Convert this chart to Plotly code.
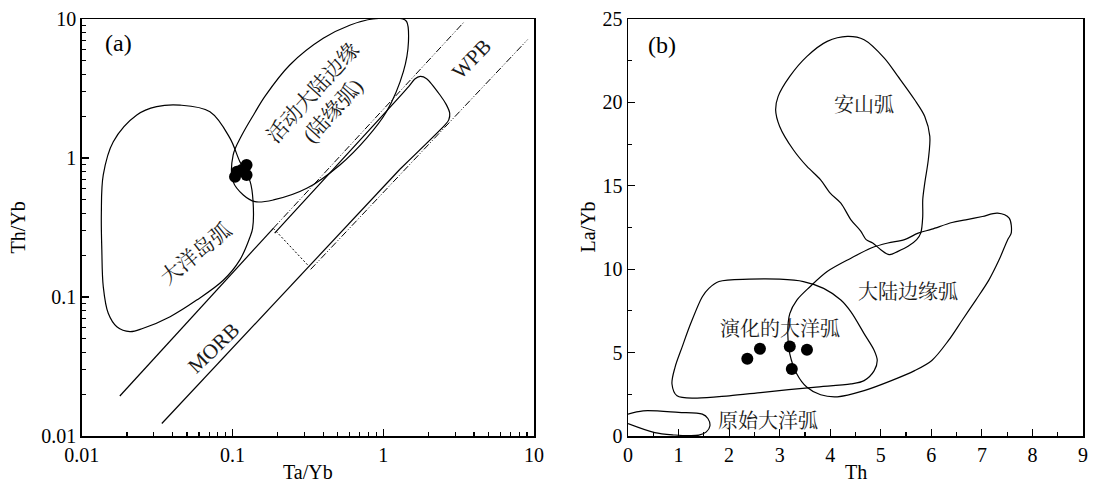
import numpy as np
import plotly.graph_objects as go

# ---------------- Panel (a): Th/Yb vs Ta/Yb (log-log) ----------------
island_arc_x = [0.0449, 0.0709, 0.0962, 0.112, 0.131, 0.137, 0.136, 0.131, 0.112, 0.0869, 0.0579, 0.0386,
                0.0256, 0.0209, 0.0171, 0.0150, 0.0139, 0.0136, 0.0135, 0.0139, 0.0162, 0.0232, 0.0314, 0.0449]
island_arc_y = [2.40, 2.15, 1.39, 0.94, 0.676, 0.485, 0.312, 0.272, 0.185, 0.132, 0.095, 0.0722,
                0.0596, 0.0563, 0.0611, 0.0763, 0.119, 0.218, 0.40, 0.755, 1.31, 2.04, 2.34, 2.40]

margin_x = [0.855, 1.35, 1.43, 1.47, 1.36, 1.05, 0.776, 0.516, 0.311, 0.187, 0.141, 0.118, 0.101,
            0.101, 0.115, 0.140, 0.165, 0.240, 0.40, 0.605, 0.855]
margin_y = [10, 10, 9.57, 6.87, 4.18, 2.15, 1.39, 0.891, 0.605, 0.499, 0.485, 0.542, 0.676,
            1.05, 1.45, 2.1, 2.8, 4.67, 7.26, 9.06, 10]

upper_line_x = [0.0179, 0.1866]
upper_line_y = [0.0194, 0.312]
lower_line_x = [0.034, 0.322, 1.29]
lower_line_y = [0.0123, 0.166, 0.83]
dashA_x = [0.1866, 3.40]
dashA_y = [0.312, 9.40]
dashD_x = [0.33, 9.06]
dashD_y = [0.158, 7.10]
connector_x = [0.1866, 0.322]
connector_y = [0.312, 0.166]
wpb_field_x = [0.1905, 1.479, 1.62, 1.76, 1.94, 2.38, 2.62, 2.76, 2.72, 2.57, 1.29]
wpb_field_y = [0.288, 3.27, 3.70, 3.86, 3.72, 2.84, 2.42, 2.10, 1.88, 1.73, 0.83]

samples_a_x = [0.104, 0.107, 0.115, 0.124, 0.124]
samples_a_y = [0.734, 0.796, 0.82, 0.891, 0.755]

# ---------------- Panel (b): La/Yb vs Th ----------------
andesite_x = [4.34, 4.67, 5.07, 5.34, 5.67, 5.87, 5.97, 5.94, 5.87, 5.83, 5.83, 5.79, 5.71, 5.54, 5.34,
              5.17, 5.0, 4.84, 4.71, 4.6, 4.41, 4.21, 4.0, 3.81, 3.54, 3.27, 3.0, 2.92, 2.97, 3.20,
              3.54, 3.94, 4.34]
andesite_y = [23.96, 23.76, 22.66, 21.56, 20.16, 19.16, 17.96, 16.56, 15.16, 14.16, 13.16, 12.16, 11.77,
              11.37, 11.07, 10.87, 11.17, 11.57, 11.77, 12.3, 12.96, 13.96, 14.56, 15.36, 16.16, 17.16,
              18.56, 19.56, 20.36, 21.56, 22.76, 23.66, 23.96]

cont_arc_x = [7.31, 7.54, 7.58, 7.51, 7.34, 7.14, 6.88, 6.61, 6.34, 6.01, 5.67, 5.21, 4.67, 4.14, 3.81,
              3.54, 3.34, 3.20, 3.16, 3.20, 3.34, 3.60, 3.94, 4.41, 4.81, 5.14, 5.47, 5.74, 6.01, 6.41,
              6.68, 7.01, 7.31]
cont_arc_y = [13.36, 13.06, 12.16, 11.77, 10.56, 9.36, 8.15, 6.94, 5.73, 4.53, 3.92, 3.32, 2.72, 2.35,
              2.47, 2.92, 3.72, 4.93, 6.14, 7.34, 8.15, 8.95, 9.86, 10.66, 11.27, 11.57, 11.77, 12.16,
              12.4, 12.8, 12.96, 13.16, 13.36]

evolved_x = [1.80, 2.40, 3.00, 3.47, 3.87, 4.21, 4.41, 4.67, 4.87, 4.93, 4.87, 4.67, 4.41, 3.67, 2.67,
             2.0, 1.34, 0.97, 0.87, 0.93, 1.07, 1.24, 1.47, 1.60, 1.80]
evolved_y = [9.26, 9.40, 9.40, 9.26, 8.85, 8.15, 7.44, 6.14, 5.13, 4.53, 3.92, 3.32, 3.12, 2.92, 2.62,
             2.41, 2.27, 2.41, 3.12, 4.12, 5.33, 6.74, 8.35, 8.85, 9.26]

primitive_x = [0, 0.30, 1.0, 1.47, 1.58, 1.62, 1.55, 1.40, 1.2, 0.93, 0.53, 0]
primitive_y = [1.31, 1.51, 1.42, 1.31, 1.05, 0.6, 0.25, 0.05, 0.02, 0.06, 0.20, 0.74]

samples_b_x = [2.36, 2.61, 3.20, 3.54, 3.24]
samples_b_y = [4.63, 5.23, 5.37, 5.17, 4.02]

# labels: (text, x, y, angle)
labels_a = [("活动大陆边缘<br>(陆缘弧)", 0.40, 2.54, -48),
            ("大洋岛弧", 0.057, 0.204, -39),
            ("MORB", 0.0753, 0.0427, -44),
            ("WPB", 3.86, 5.13, -46)]
labels_b = [("安山弧", 4.67, 19.86),
            ("大陆边缘弧", 5.54, 8.65),
            ("演化的大洋弧", 3.00, 6.44),
            ("原始大洋弧", 2.77, 0.91)]

FONT = "Liberation Serif, Times New Roman, Noto Serif CJK SC, Noto Sans CJK SC, serif"
BLACK = "black"
W, H = 1097, 487

fig = go.Figure()

def add_line(x, y, xa, ya, dash="solid", shape="linear", width=1.2, smoothing=1.0):
    line = dict(color=BLACK, width=width, dash=dash, shape=shape)
    if shape == "spline":
        line["smoothing"] = smoothing
    fig.add_trace(go.Scatter(x=x, y=y, mode="lines", line=line, xaxis=xa, yaxis=ya,
                             hoverinfo="skip", showlegend=False))

# panel a
add_line(island_arc_x, island_arc_y, "x", "y", shape="spline", smoothing=1.0)
add_line(margin_x, margin_y, "x", "y", shape="spline", smoothing=1.0)
add_line(upper_line_x, upper_line_y, "x", "y")
add_line(lower_line_x, lower_line_y, "x", "y")
add_line(wpb_field_x, wpb_field_y, "x", "y", shape="spline", smoothing=0.6)
add_line(dashA_x, dashA_y, "x", "y", dash="7px,2px,1px,2px,1px,2px", width=1)
add_line(dashD_x, dashD_y, "x", "y", dash="7px,2px,1px,2px,1px,2px", width=1)
add_line(connector_x, connector_y, "x", "y", dash="2px,2px", width=1)
fig.add_trace(go.Scatter(x=samples_a_x, y=samples_a_y, mode="markers", xaxis="x", yaxis="y",
                         marker=dict(color=BLACK, size=12), hoverinfo="skip", showlegend=False))

# panel b
for xs, ys in [(andesite_x, andesite_y), (cont_arc_x, cont_arc_y), (evolved_x, evolved_y),
               (primitive_x, primitive_y)]:
    add_line(xs, ys, "x2", "y2", shape="spline", smoothing=0.9)
fig.add_trace(go.Scatter(x=samples_b_x, y=samples_b_y, mode="markers", xaxis="x2", yaxis="y2",
                         marker=dict(color=BLACK, size=12), hoverinfo="skip", showlegend=False))

annotations = []
for text, x, y, ang in labels_a:
    annotations.append(dict(text=text, x=np.log10(x), y=np.log10(y), xref="x", yref="y",
                            xanchor="center", yanchor="middle",
                            textangle=ang, showarrow=False, font=dict(family=FONT, size=21, color="#1a1a1a")))
for text, x, y in labels_b:
    annotations.append(dict(text=text, x=x, y=y, xref="x2", yref="y2", showarrow=False,
                            xanchor="center", yanchor="middle",
                            font=dict(family=FONT, size=20, color="#1a1a1a")))
annotations.append(dict(text="(a)", x=np.log10(0.0175), y=np.log10(6.7), xref="x", yref="y",
                        xanchor="center", yanchor="middle",
                        showarrow=False, font=dict(family=FONT, size=24, color=BLACK)))
annotations.append(dict(text="(b)", x=0.67, y=23.45, xref="x2", yref="y2",
                        xanchor="center", yanchor="middle",
                        showarrow=False, font=dict(family=FONT, size=24, color=BLACK)))
# axis titles
title_font = dict(family=FONT, size=20, color=BLACK)
annotations += [
    dict(text="Ta/Yb", x=308 / W, y=1 - 472 / H, xref="paper", yref="paper", showarrow=False,
         xanchor="center", yanchor="middle", font=title_font),
    dict(text="Th", x=855.5 / W, y=1 - 472 / H, xref="paper", yref="paper", showarrow=False,
         xanchor="center", yanchor="middle", font=title_font),
    dict(text="Th/Yb", x=18 / W, y=1 - 227.5 / H, xref="paper", yref="paper", showarrow=False,
         xanchor="center", yanchor="middle", textangle=-90, font=title_font),
    dict(text="La/Yb", x=588 / W, y=1 - 227.5 / H, xref="paper", yref="paper", showarrow=False,
         xanchor="center", yanchor="middle", textangle=-90, font=title_font),
]

axis_common = dict(showline=True, linecolor=BLACK, linewidth=1.5, mirror=True, showgrid=False,
                   zeroline=False, ticks="inside", tickcolor=BLACK, ticklen=7, tickwidth=1.2,
                   automargin=False, tickfont=dict(family=FONT, size=20, color=BLACK))

fig.update_layout(
    width=W, height=H, margin=dict(l=0, r=0, t=0, b=0, autoexpand=False),
    paper_bgcolor="white", plot_bgcolor="white", showlegend=False,
    xaxis=dict(type="log", range=[-2, 1], domain=[81.7 / W, 534 / W], anchor="y",
               dtick=1, exponentformat="none",
               minor=dict(ticks="inside", ticklen=4, tickcolor=BLACK, dtick="D1", showgrid=False),
               **axis_common),
    yaxis=dict(type="log", range=[-2, 1], domain=[1 - 436 / H, 1 - 19 / H], anchor="x",
               dtick=1, exponentformat="none",
               minor=dict(ticks="inside", ticklen=4, tickcolor=BLACK, dtick="D1", showgrid=False),
               **axis_common),
    xaxis2=dict(range=[0, 9], domain=[628 / W, 1083 / W], anchor="y2", dtick=1,
                minor=dict(ticks="inside", ticklen=4, tickcolor=BLACK, dtick=0.5, showgrid=False),
                **axis_common),
    yaxis2=dict(range=[0, 25], domain=[1 - 436 / H, 1 - 19 / H], anchor="x2", dtick=5,
                minor=dict(ticks="inside", ticklen=4, tickcolor=BLACK, dtick=2.5, showgrid=False),
                **axis_common),
    annotations=annotations,
)

fig.write_html("out.html", config={"displayModeBar": False, "staticPlot": True},
               post_script="document.body.style.margin='0';document.body.style.padding='0';"
                           "document.body.style.overflow='hidden';")
